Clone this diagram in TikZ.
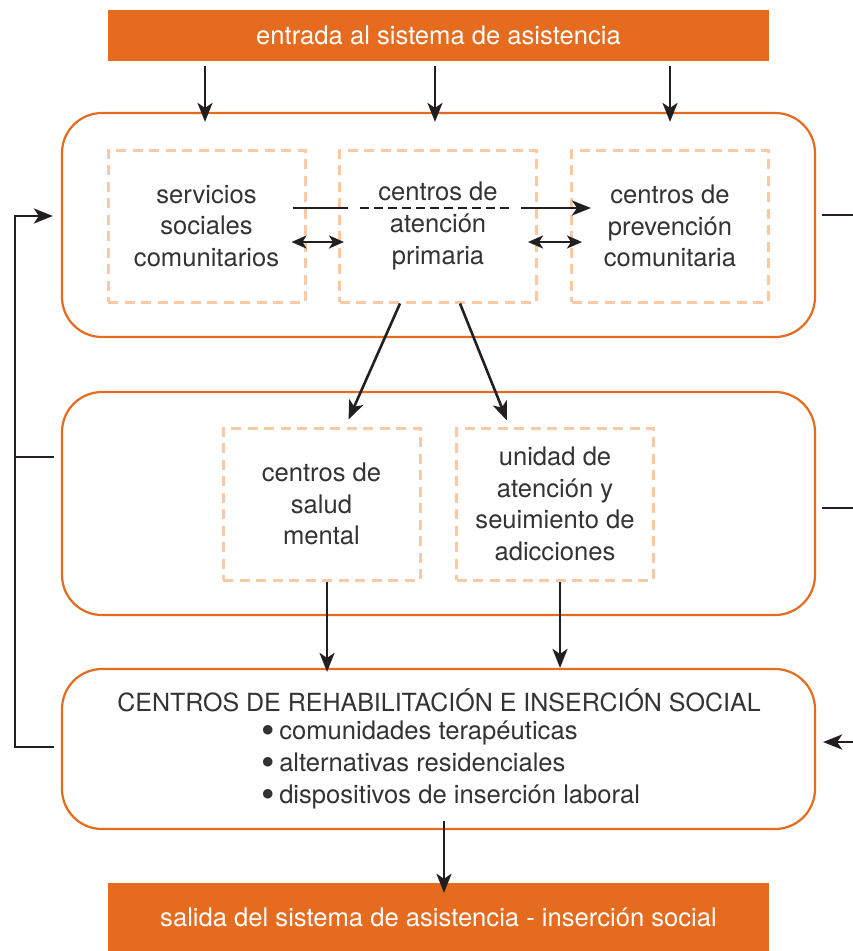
\documentclass[tikz,border=0pt]{standalone}
\usepackage{fontspec}
\setmainfont{TeX Gyre Heros}
\usetikzlibrary{arrows.meta,calc}
\definecolor{orng}{HTML}{E56B1F}
\definecolor{peach}{HTML}{F9C8A4}
\definecolor{txt}{HTML}{333333}
\definecolor{arr}{HTML}{231F20}
\newcommand\mybul{\raisebox{-0.16em}[0pt][0pt]{\scalebox{1.5}{•}}\hspace{0.18em}}
\begin{document}
\begin{tikzpicture}[x=1pt,y=-1pt,
  bar/.style={fill=orng, draw=none, text=white, minimum width=661pt, inner sep=0pt, font=\fontsize{25.6}{30}\selectfont},
  bigbox/.style={draw=orng, line width=2.2pt, rounded corners=40pt, minimum width=753pt, inner sep=0pt},
  dbox/.style={draw=peach, line width=3pt, dash pattern=on 10pt off 6.5pt, minimum width=197pt, minimum height=152pt, inner sep=0pt, align=center, text=txt, font=\fontsize{25.6}{31.7}\selectfont},
  lbl/.style={text=txt, inner sep=0pt, font=\fontsize{25.6}{32}\selectfont},
  ln/.style={draw=arr, line width=2.6pt},
  conn/.style={ln, -{Stealth[length=19pt,width=15pt,inset=5pt]}},
  dconn/.style={ln, {Stealth[length=15pt,width=13pt,inset=4pt]}-{Stealth[length=15pt,width=13pt,inset=4pt]}}
]
\useasboundingbox (0,0) rectangle (853,951);

% bars
\node[bar, minimum height=51pt] (top) at (438.5,35.5) {entrada al sistema de asistencia};
\node[bar, minimum height=68pt] (bot) at (438.5,917) {};
\node[text=white, inner sep=0pt, font=\fontsize{25.6}{30}\selectfont] (bottxt) at (438.5,917) {salida del sistema de asistencia - inserción social};

% big boxes
\node[bigbox, minimum height=224pt] (b1) at (438.5,225) {};
\node[bigbox, minimum height=223pt] (b2) at (438.5,503.5) {};
\node[bigbox, minimum height=160pt] (b3) at (438.5,749) {};

% dashed boxes
\node[dbox] (s1) at (206.5,226) {servicios\\sociales\\comunitarios};
\node[dbox] (s2) at (438,226) {centros de\\atención\\primaria};
\node[dbox] (s3) at (670,226) {centros de\\prevención\\comunitaria};
\node[dbox] (m1) at (321.5,504) {centros de\\salud\\mental};
\node[dbox] (m2) at (555,504) {unidad de\\atención y\\seuimiento de\\adicciones};

% box 3 text
\node[lbl, font=\fontsize{25}{32}\selectfont] (t3) at (439,700) {CENTROS DE REHABILITACIÓN E INSERCIÓN SOCIAL};
\node[lbl, anchor=west, align=left] (l3) at (261,765) {\mybul comunidades terapéuticas\\\mybul alternativas residenciales\\\mybul dispositivos de inserción laboral};

% arrows from top bar
\draw[conn] ($(top.south -| s1)+(-1.5,5)$) -- ($(b1.north -| s1)+(-1.5,10)$);
\draw[conn] ($(top.south -| s2)+(-3,5)$) -- ($(b1.north -| s2)+(-3,10)$);
\draw[conn] ($(top.south -| s3)+(0,5)$) -- ($(b1.north -| s3)+(0,10)$);

% horizontal arrow through centros de atencion primaria
\draw[ln] ($(s1.east)+(-14,-18)$) -- ($(s2.west)+(10,-18)$);
\draw[ln, dash pattern=on 9pt off 5pt] ($(s2.west)+(22,-18)$) -- ($(s2.east)+(-27,-18)$);
\draw[conn] ($(s2.east)+(-17,-18)$) -- ($(s3.west)+(21,-18)$);

% double arrows
\draw[dconn] ($(s1.east)+(-15,16)$) -- ($(s2.west)+(6,16)$);
\draw[dconn] ($(s2.east)+(-10,16)$) -- ($(s3.west)+(12,16)$);

% diagonal arrows
\draw[conn] ($(s2.south)+(-38,0)$) -- ($(m1.north)+(27,-7)$);
\draw[conn] ($(s2.south)+(22,0)$) -- ($(m2.north)+(-48,-6)$);

% down arrows
\draw[conn] ($(m1.south)+(5.5,0)$) -- ($(b3.north -| m1)+(5.5,4)$);
\draw[conn] ($(m2.south)+(5,0)$) -- ($(b3.north -| m2)+(5,0)$);
\draw[conn] ($(b3.south)+(5.5,-9)$) -- ($(bot.north)+(5.5,10)$);

% left feedback loop
\coordinate (lt) at (15,216);
\coordinate (lb) at (15,747);
\coordinate (lm) at (15,457);
\draw[ln] ($(b3.west)+(-7,-2)$) -- (lb) -- (lt) -- ++(5,0);
\draw[conn] (lt) -- ($(b1.west)+(-8,-9)$);
\draw[ln] ($(b2.west)+(-7,-46.5)$) -- (lm);

% right side lines
\coordinate (r1) at (853,215);
\coordinate (r2) at (853,508);
\coordinate (r3) at (853,742);
\draw[ln] ($(b1.east)+(6,-10)$) -- (r1);
\draw[ln] ($(b2.east)+(6,4.5)$) -- (r2);
\draw[conn] (r3) -- ($(b3.east)+(7,-7)$);
\end{tikzpicture}
\end{document}
